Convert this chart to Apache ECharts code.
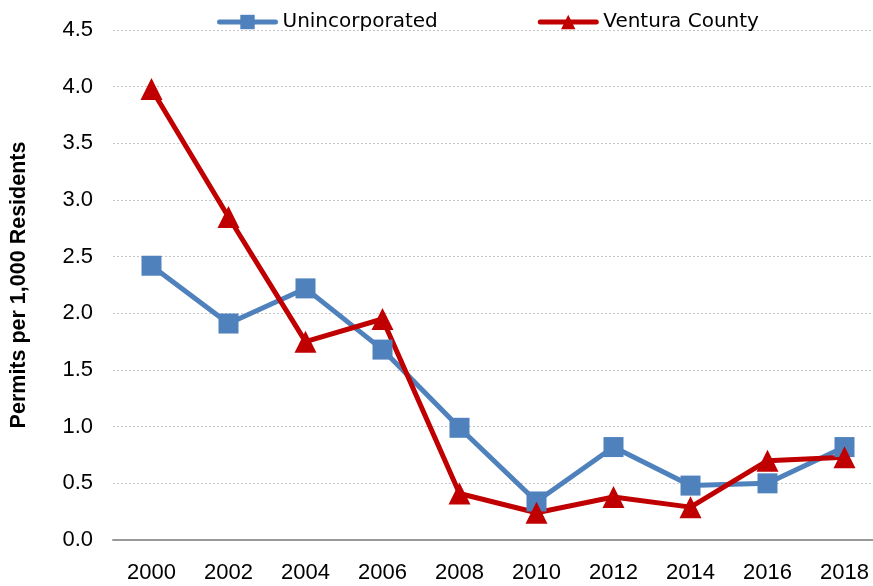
<!DOCTYPE html>
<html>
<head>
<meta charset="utf-8">
<script src="https://cdn.jsdelivr.net/npm/echarts@6/dist/echarts.min.js"></script>
<style>
  html, body { margin: 0; padding: 0; background: #fff; }
  #chart { width: 873px; height: 586px; }
</style>
</head>
<body>
<div id="chart"></div>
<script>
// data
const years = ['2000', '2002', '2004', '2006', '2008', '2010', '2012', '2014', '2016', '2018']
const unincorporated = [2.42, 1.91, 2.22, 1.68, 0.99, 0.34, 0.82, 0.48, 0.50, 0.82]
const venturaCounty = [3.98, 2.85, 1.75, 1.95, 0.41, 0.24, 0.38, 0.29, 0.70, 0.73]

const chart = echarts.init(document.getElementById('chart'))
const tickFont = 'Liberation Sans, Arial, sans-serif'

chart.setOption({
  animation: false,
  legend: {
    top: 7,
    left: 212,
    itemWidth: 56,
    itemHeight: 18,
    itemGap: 100,
    lineStyle: { width: 5, cap: 'round' },
    textStyle: { fontSize: 20, color: '#000', fontFamily: 'DejaVu Sans, sans-serif', padding: [0, 0, 0, 2] },
    data: ['Unincorporated', 'Ventura County']
  },
  grid: { left: 113, width: 770, top: 30, height: 510, outerBoundsMode: 'none', containLabel: false },
  xAxis: {
    type: 'category',
    data: years,
    boundaryGap: true,
    axisLine: { lineStyle: { color: '#999', width: 2 } },
    axisTick: { show: false },
    axisLabel: { fontSize: 22, color: '#000', fontFamily: tickFont, margin: 22 }
  },
  yAxis: {
    type: 'value',
    min: 0,
    max: 4.5,
    interval: 0.5,
    name: 'Permits per 1,000 Residents',
    nameLocation: 'middle',
    nameGap: 83,
    nameRotate: 90,
    nameTextStyle: { fontSize: 21.5, fontWeight: 'bold', color: '#000', fontFamily: 'Liberation Sans, Arial, sans-serif' },
    axisLine: { show: false },
    axisTick: { show: false },
    axisLabel: {
      fontSize: 22, color: '#000', fontFamily: tickFont, margin: 20,
      formatter: v => v.toFixed(1)
    },
    splitLine: { lineStyle: { color: '#c4c4c4', type: [2, 2], width: 1 } }
  },
  series: [
    {
      name: 'Unincorporated',
      type: 'line',
      data: unincorporated,
      symbol: 'rect',
      symbolSize: 20,
      lineStyle: { color: '#4f81bd', width: 5 },
      itemStyle: { color: '#4f81bd' }
    },
    {
      name: 'Ventura County',
      type: 'line',
      data: venturaCounty,
      symbol: 'triangle',
      symbolSize: 22,
      lineStyle: { color: '#c00000', width: 5 },
      itemStyle: { color: '#c00000' }
    }
  ]
})
</script>
</body>
</html>
